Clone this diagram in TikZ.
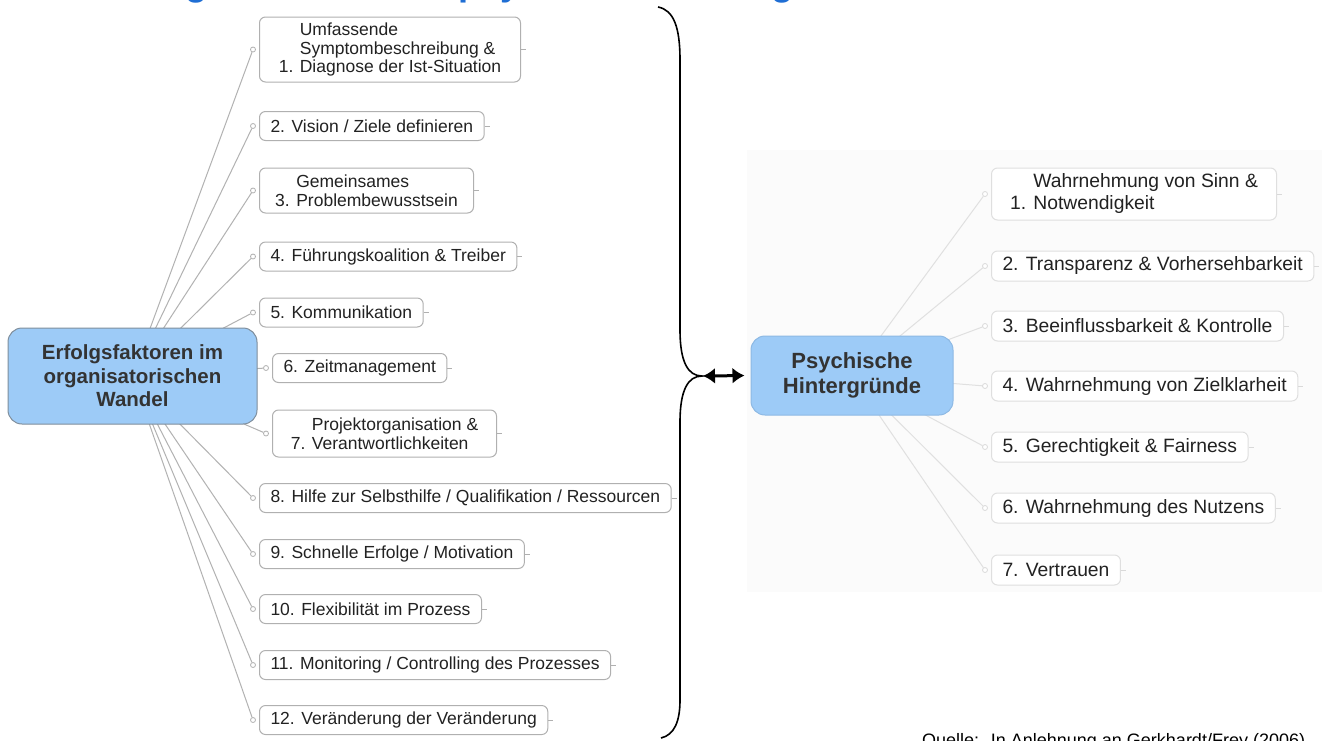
\documentclass[tikz,border=0pt]{standalone}
\usepackage{fontspec}
\setmainfont{Liberation Sans}
\usetikzlibrary{arrows.meta,backgrounds}

\definecolor{rootblue}{HTML}{9DCBF7}
\definecolor{rootedgeL}{HTML}{7F8E9C}
\definecolor{rootedgeR}{HTML}{8DB9E4}
\definecolor{titleblue}{HTML}{1F6ED4}
\definecolor{panelgray}{HTML}{FBFBFB}
\definecolor{inktext}{HTML}{222222}

\newcommand\lbranchfont{\fontsize{17.5}{18.5}\selectfont}
\newcommand\rbranchfont{\fontsize{19.3}{22}\selectfont}
\newcommand\lrootfont{\fontsize{20.5}{23.5}\selectfont\bfseries}
\newcommand\rrootfont{\fontsize{22}{25}\selectfont\bfseries}

\begin{document}
\begin{tikzpicture}[x=1pt,y=-1pt,
  root/.style={draw, fill=rootblue, rounded corners=14pt, line width=1pt,
    align=center, text=black!80, inner sep=0pt},
  lbranch/.style={draw=gray!62, fill=white, rounded corners=6pt, line width=1pt,
    anchor=west, align=left, inner xsep=11pt, inner ysep=0pt,
    minimum height=29pt, font=\lbranchfont, text=inktext},
  rbranch/.style={draw=gray!25, fill=white, rounded corners=6pt, line width=1pt,
    anchor=west, align=left, inner xsep=11pt, inner ysep=0pt,
    minimum height=30pt, font=\rbranchfont, text=inktext},
  ldot/.style={circle, draw=gray!62, fill=white, line width=0.8pt,
    inner sep=0pt, minimum size=5pt},
  rdot/.style={circle, draw=gray!30, fill=white, line width=0.8pt,
    inner sep=0pt, minimum size=5pt},
  lline/.style={draw=gray!60, line width=1pt},
  rline/.style={draw=gray!24, line width=1pt},
  lstub/.style={draw=gray!62, line width=0.8pt},
  rstub/.style={draw=gray!30, line width=0.8pt},
  bracestroke/.style={draw=black, line width=1.6pt},
  dblarrow/.style={draw=black, line width=3pt,
    {Latex[length=12pt,width=16pt]}-{Latex[length=12pt,width=16pt]}}
]
\useasboundingbox (0,0) rectangle (1322,740);
\clip (0,0) rectangle (1322,740);

% slide heading, mostly above the visible area
\node[anchor=base west, inner sep=0pt, text=titleblue,
      font=\fontsize{36.4}{40}\selectfont\bfseries] (title) at (102,-4.5)
  {Erfolgsfaktoren und psychische Hintergründe};

% ---- left map: success factors ----
\node[root, draw=rootedgeL, font=\lrootfont, minimum width=249pt, minimum height=96pt]
  (lroot) at (132.5,376) {Erfolgsfaktoren im\\organisatorischen\\Wandel};

\node[lbranch, minimum width=261pt, minimum height=65pt] (l1) at (259,49.5)
  {\hphantom{1. }Umfassende\\\hphantom{1. }Symptombeschreibung \&\\1. Diagnose der Ist-Situation};
\node[lbranch] (l2) at (259,126) {2. Vision / Ziele definieren};
\node[lbranch, minimum width=214pt, minimum height=45pt] (l3) at (259,190.5)
  {\hphantom{3. }Gemeinsames\\3. Problembewusstsein};
\node[lbranch] (l4) at (259,256.5) {4. Führungskoalition \& Treiber};
\node[lbranch] (l5) at (259,312.5) {5. Kommunikation};
\node[lbranch] (l6) at (272,368) {6. Zeitmanagement};
\node[lbranch, minimum width=224pt, minimum height=47pt] (l7) at (272,433.5)
  {\hphantom{7. }Projektorganisation \&\\7. Verantwortlichkeiten};
\node[lbranch] (l8) at (259,498) {8. Hilfe zur Selbsthilfe / Qualifikation / Ressourcen};
\node[lbranch] (l9) at (259,554) {9. Schnelle Erfolge / Motivation};
\node[lbranch] (l10) at (259,609) {10. Flexibilität im Prozess};
\node[lbranch] (l11) at (259,665) {11. Monitoring / Controlling des Prozesses};
\node[lbranch] (l12) at (259,720) {12. Veränderung der Veränderung};

\foreach \i in {1,...,12}{
  \node[ldot] (lc\i) at ([xshift=-6pt]l\i.west) {};
  \draw[lstub] (l\i.east) -- ++(5,0);
}

% ---- right map: psychological background ----
\node[root, draw=rootedgeR, font=\rrootfont, minimum width=202pt, minimum height=79pt]
  (rroot) at (852,375.5) {Psychische\\Hintergründe};

\node[rbranch, minimum width=285pt, minimum height=52pt] (r1) at (991,194)
  {\hphantom{1. }Wahrnehmung von Sinn \&\\1. Notwendigkeit};
\node[rbranch] (r2) at (991,266) {2. Transparenz \& Vorhersehbarkeit};
\node[rbranch] (r3) at (991,326) {3. Beeinflussbarkeit \& Kontrolle};
\node[rbranch] (r4) at (991,386) {4. Wahrnehmung von Zielklarheit};
\node[rbranch] (r5) at (991,447) {5. Gerechtigkeit \& Fairness};
\node[rbranch] (r6) at (991,508) {6. Wahrnehmung des Nutzens};
\node[rbranch] (r7) at (991,570) {7. Vertrauen};

\foreach \i in {1,...,7}{
  \node[rdot] (rc\i) at ([xshift=-6pt]r\i.west) {};
  \draw[rstub] (r\i.east) -- ++(5,0);
}

% ---- connectors behind the boxes ----
\begin{scope}[on background layer]
  \fill[white] (0,0) rectangle (1322,740);
  \fill[panelgray] (747,150) rectangle (1322,592);
  \foreach \i in {1,...,12} \draw[lline] (lroot.center) -- (lc\i);
  \foreach \i in {1,...,7} \draw[rline] (rroot.center) -- (rc\i);
\end{scope}

% ---- curly brace and double arrow ----
\coordinate (btop) at (658,7);
\coordinate (btip) at (702,376);
\coordinate (bbot) at (661,738);
\draw[bracestroke] (btop) .. controls (674,10) and (680,28) .. (680,60)
  -- (680,330) .. controls (680,362) and (688,376) .. (btip)
  .. controls (688,376) and (680,390) .. (680,422)
  -- (680,700) .. controls (680,722) and (674,735) .. (bbot);
\draw[dblarrow, shorten <=1pt, shorten >=6pt] (btip) -- (rroot.west);

% ---- source line ----
\node[anchor=base west, inner sep=0pt, font=\fontsize{18}{20}\selectfont, text=black]
  (src) at (922,746) {Quelle:~ In Anlehnung an Gerkhardt/Frey (2006)};
\end{tikzpicture}
\end{document}
